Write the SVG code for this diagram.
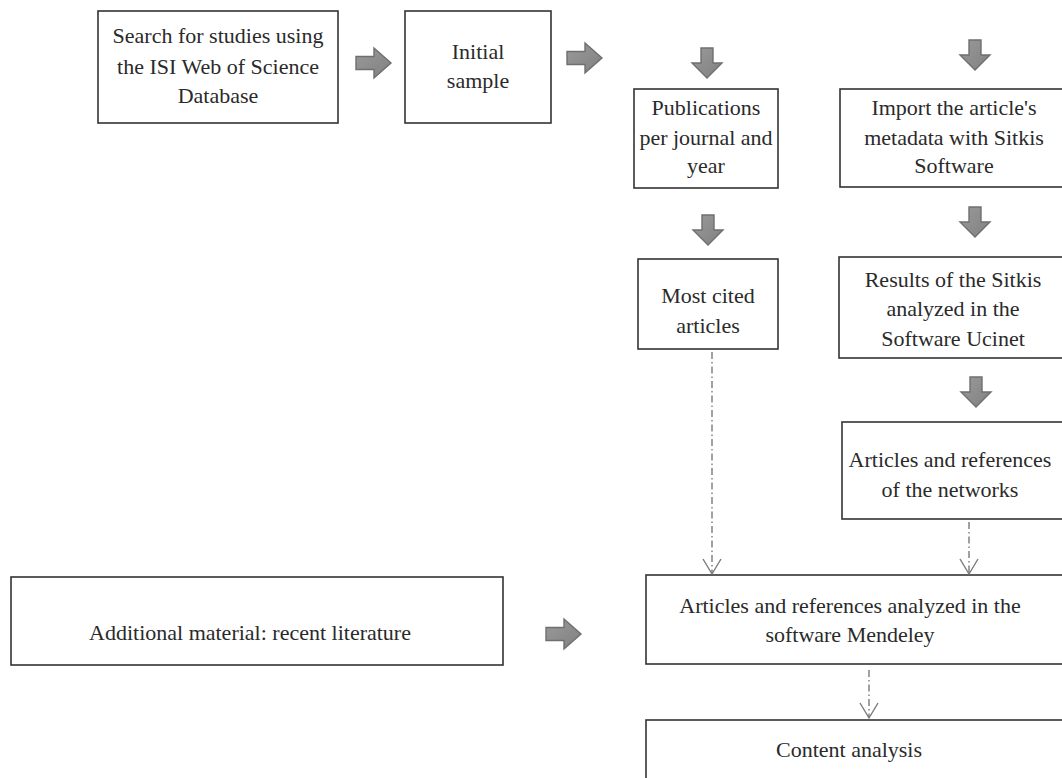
<svg xmlns="http://www.w3.org/2000/svg" width="1062" height="778" viewBox="0 0 1062 778">
<style>
.box{fill:#fff;stroke:#333;stroke-width:1.6}
.t{font-family:'Liberation Serif','Times New Roman',Times,'DejaVu Serif',serif;font-size:22px;fill:#2a2a2a;text-anchor:middle}
.blk{fill:url(#g);stroke:#6f6f6f;stroke-width:1.4;stroke-linejoin:miter}
.dc{fill:none;stroke:#7a7a7a;stroke-width:1.4;stroke-dasharray:7 3 1.5 3}
.vh{fill:none;stroke:#7a7a7a;stroke-width:1.4}
</style>
<defs>
<linearGradient id="g" x1="0" y1="0" x2="1" y2="1">
<stop offset="0" stop-color="#9a9a9a"/>
<stop offset="1" stop-color="#808080"/>
</linearGradient>
<path id="ra" d="M0,-6.5 H18 V-15 L35,0 L18,15 V6.5 H0 Z"/>
<path id="da" d="M-6,-30 H6 V-15 H15 L0,0 L-15,-15 H-6 Z"/>
</defs>
<rect width="1062" height="778" fill="#fff"/>

<g id="n1"><rect class="box" x="98" y="11" width="240" height="112"/>
<text class="t" font-family="Liberation Serif, serif" x="218" y="43">Search for studies using</text>
<text class="t" font-family="Liberation Serif, serif" x="218" y="74">the ISI Web of Science</text>
<text class="t" font-family="Liberation Serif, serif" x="218" y="103">Database</text></g>

<g id="n2"><rect class="box" x="405" y="11" width="146" height="112"/>
<text class="t" x="478" y="59">Initial</text>
<text class="t" x="478" y="88">sample</text></g>

<g id="n3"><rect class="box" x="634" y="89" width="144" height="99"/>
<text class="t" x="706" y="115">Publications</text>
<text class="t" x="706" y="145">per journal and</text>
<text class="t" x="706" y="173">year</text></g>

<g id="n4"><rect class="box" x="840" y="89" width="230" height="98"/>
<text class="t" x="954" y="115">Import the article's</text>
<text class="t" x="954" y="145">metadata with Sitkis</text>
<text class="t" x="954" y="173">Software</text></g>

<g id="n5"><rect class="box" x="638" y="259" width="140" height="90"/>
<text class="t" x="708" y="303">Most cited</text>
<text class="t" x="708" y="333">articles</text></g>

<g id="n6"><rect class="box" x="839" y="257" width="230" height="101"/>
<text class="t" x="953" y="287">Results of the Sitkis</text>
<text class="t" x="953" y="316">analyzed in the</text>
<text class="t" x="953" y="346">Software Ucinet</text></g>

<g id="n7"><rect class="box" x="842" y="422" width="228" height="97"/>
<text class="t" x="950" y="467">Articles and references</text>
<text class="t" x="950" y="497">of the networks</text></g>

<g id="n8"><rect class="box" x="646" y="575" width="424" height="89"/>
<text class="t" x="850" y="613">Articles and references analyzed in the</text>
<text class="t" x="850" y="642">software Mendeley</text></g>

<g id="n9"><rect class="box" x="646" y="720" width="424" height="70"/>
<text class="t" x="849" y="757">Content analysis</text></g>

<g id="n10"><rect class="box" x="11" y="577" width="492" height="88"/>
<text class="t" x="250" y="640">Additional material: recent literature</text></g>

<g id="connectors">
<use href="#ra" class="blk" x="356" y="63"/>
<use href="#ra" class="blk" x="567" y="58"/>
<use href="#ra" class="blk" x="546" y="634"/>
<use href="#da" class="blk" x="707" y="78"/>
<use href="#da" class="blk" x="975" y="70"/>
<use href="#da" class="blk" x="708" y="245"/>
<use href="#da" class="blk" x="975" y="237"/>
<use href="#da" class="blk" x="976" y="407"/>
<path class="dc" d="M712,352 V573"/>
<path class="vh" d="M703,559 L712,574 L721,559"/>
<path class="dc" d="M969,522 V573"/>
<path class="vh" d="M960,559 L969,574 L978,559"/>
<path class="dc" d="M869,670 V717"/>
<path class="vh" d="M860,703 L869,718 L878,703"/>
</g>
</svg>
